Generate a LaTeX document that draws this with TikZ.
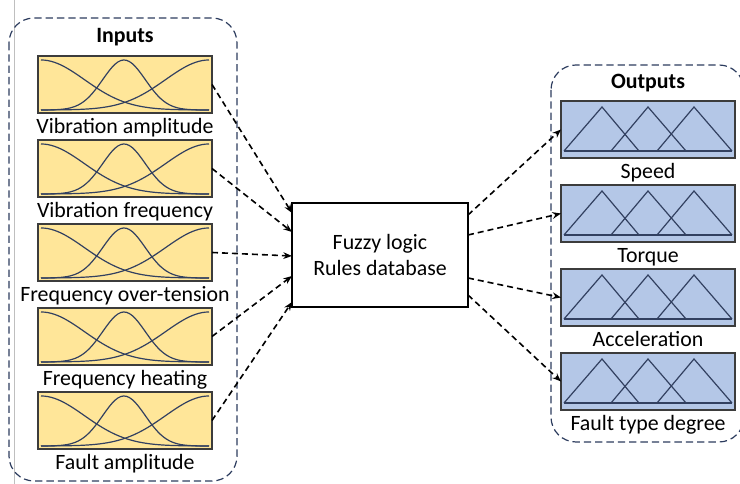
\documentclass[tikz,border=0pt]{standalone}
\usepackage{fontspec}
\setmainfont{Carlito}
\usepackage{tikz}
\usetikzlibrary{arrows.meta, positioning, calc}
\definecolor{inFill}{RGB}{255,230,153}
\definecolor{outFill}{RGB}{180,199,231}
\definecolor{boxEdge}{RGB}{60,60,60}
\definecolor{mfLine}{RGB}{50,64,96}
\definecolor{grpEdge}{RGB}{44,60,94}

\begin{document}
\begin{tikzpicture}[
    x=0.75pt, y=0.75pt,
    node distance=20.25pt,
    every node/.style={font=\fontsize{16.4}{19.7}\selectfont},
    mf/.style={draw=mfLine, line width=0.9pt},
    inbox/.style={rectangle, draw=boxEdge, line width=1.1pt, fill=inFill, minimum width=130.5pt, minimum height=42.75pt, inner sep=0pt, outer sep=0pt},
    outbox/.style={rectangle, draw=boxEdge, line width=1.1pt, fill=outFill, minimum width=130.5pt, minimum height=42.75pt, inner sep=0pt, outer sep=0pt},
    % bell-shaped membership functions, origin at the box's lower left corner
    pics/gaussmf/.style={code={
        \begin{scope}[x=1pt, y=1pt]
            \draw[mf] plot[domain=2.25:128.25, samples=50] (\x, {2.25+37.5*exp(-0.5*((\x-2.25)/32.6)^2)});
            \draw[mf] plot[domain=2.25:128.25, samples=60] (\x, {2.25+37.5*exp(-0.5*((\x-64.5)/16)^2)});
            \draw[mf] plot[domain=2.25:128.25, samples=50] (\x, {2.25+37.5*exp(-0.5*((\x-128.25)/32.6)^2)});
        \end{scope}}},
    % triangular membership functions
    pics/trimf/.style={code={
        \begin{scope}[x=1pt, y=1pt]
            \draw[mf] (2.25,5.25) -- (128.25,5.25);
            \draw[mf] (2.25,5.25) -- (30.75,38.25) -- (58.5,5.25);
            \draw[mf] (37.5,5.25) -- (65.25,38.25) -- (93.75,5.25);
            \draw[mf] (72,5.25) -- (99.75,38.25) -- (128.25,5.25);
        \end{scope}}},
    rulebox/.style={rectangle, draw=black, line width=0.8pt, fill=white, minimum width=132pt, minimum height=78pt, align=center, inner sep=0pt, outer sep=0pt},
    lbl/.style={inner sep=0pt, text height=11pt, text depth=3pt},
    grouptitle/.style={inner sep=0pt, text depth=0pt, font=\fontsize{16.4}{19.7}\selectfont\bfseries},
    group/.style={draw=grpEdge, line width=0.9pt, dash pattern=on 5.5pt off 3pt, rounded corners=18.75pt},
    arrow/.style={-{Stealth[length=6.5pt, width=5pt]}, line width=1.2pt, dash pattern=on 4.5pt off 3pt}
]
\useasboundingbox (0,0) rectangle (740,484);

% thin rule at the left edge
\draw[black!25, line width=0.6pt] (14,0) -- (14,484);

% Inputs column
\node[inbox] (in1) at (125,399.5) {};
\node[grouptitle, above=9.75pt of in1] (intitle) {Inputs};
\node[lbl, below=4pt of in1] (in1lbl) {Vibration amplitude};
\node[inbox, below=of in1] (in2) {};
\node[lbl, below=4pt of in2] (in2lbl) {Vibration frequency};
\node[inbox, below=of in2] (in3) {};
\node[lbl, below=4pt of in3] (in3lbl) {Frequency over-tension};
\node[inbox, below=of in3] (in4) {};
\node[lbl, below=4pt of in4] (in4lbl) {Frequency heating};
\node[inbox, below=of in4] (in5) {};
\node[lbl, below=4pt of in5] (in5lbl) {Fault amplitude};

\pic at (in1.south west) {gaussmf};
\pic at (in2.south west) {gaussmf};
\pic at (in3.south west) {gaussmf};
\pic at (in4.south west) {gaussmf};
\pic at (in5.south west) {gaussmf};

% Rule base
\node[rulebox] (fuzzy) at (380,229) {Fuzzy logic\\Rules database};

% Outputs column
\node[outbox] (out1) at (648,354.5) {};
\node[grouptitle, above=9pt of out1] (outtitle) {Outputs};
\node[lbl, below=4pt of out1] (out1lbl) {Speed};
\node[outbox, below=of out1] (out2) {};
\node[lbl, below=4pt of out2] (out2lbl) {Torque};
\node[outbox, below=of out2] (out3) {};
\node[lbl, below=4pt of out3] (out3lbl) {Acceleration};
\node[outbox, below=of out3] (out4) {};
\node[lbl, below=4pt of out4] (out4lbl) {Fault type degree};

\pic at (out1.south west) {trimf};
\pic at (out2.south west) {trimf};
\pic at (out3.south west) {trimf};
\pic at (out4.south west) {trimf};

% Dashed group frames
\draw[group] ($(in1.north west)+(-29,38)$) rectangle ($(in5.south east)+(25,-32)$);
\draw[group] ($(out1.north west)+(-10,36)$) rectangle ($(out4.south east)+(9,-32)$);

% Inputs -> rule base
\draw[arrow] (in1.east) -- ([yshift=31.5pt]fuzzy.west);
\draw[arrow] (in2.east) -- ([yshift=17.25pt]fuzzy.west);
\draw[arrow] (in3.east) -- ([yshift=-0.75pt]fuzzy.west);
\draw[arrow] (in4.east) -- ([yshift=-15.75pt]fuzzy.west);
\draw[arrow] (in5.east) -- ([yshift=-35.25pt]fuzzy.west);

% Rule base -> outputs
\draw[arrow] ([yshift=30pt]fuzzy.east) -- (out1.west);
\draw[arrow] ([yshift=15pt]fuzzy.east) -- (out2.west);
\draw[arrow] ([yshift=-17.25pt]fuzzy.east) -- (out3.west);
\draw[arrow] ([yshift=-30pt]fuzzy.east) -- (out4.west);

\end{tikzpicture}
\end{document}
